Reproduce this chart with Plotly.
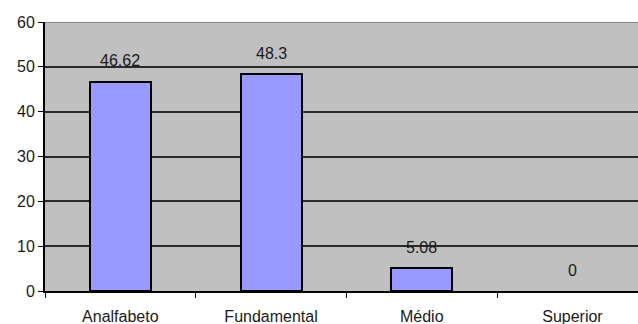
import plotly.graph_objects as go

# Escolaridade: percentual por nível
categorias = ["Analfabeto", "Fundamental", "Médio", "Superior"]
valores = [46.62, 48.3, 5.08, 0]
y_ticks = [0, 10, 20, 30, 40, 50, 60]

FONT = "Liberation Sans, Arial, sans-serif"

fig = go.Figure(
    go.Bar(
        x=categorias,
        y=valores,
        width=0.405,
        marker=dict(
            color="#9999FF",
            # no outline for empty bars
            line=dict(color="#000000", width=[2 if v > 0 else 0 for v in valores]),
        ),
        hoverinfo="skip",
    )
)

# value labels floating above each bar
for c, v in zip(categorias, valores):
    fig.add_annotation(
        x=c, y=v, text=f"{v:g}", showarrow=False,
        yanchor="middle", yshift=21,
        font=dict(family=FONT, size=16, color="#1a1a1a"),
    )

# lighter top border of the plot area
fig.add_shape(
    type="line", xref="paper", yref="y", x0=0, x1=1, y0=60, y1=60,
    line=dict(color="#8a8a8a", width=2), layer="above",
)

fig.update_layout(
    width=638, height=324,
    margin=dict(l=45, r=0, t=22, b=33),
    paper_bgcolor="#ffffff",
    plot_bgcolor="#C0C0C0",
    showlegend=False,
    font=dict(family=FONT, size=16, color="#1a1a1a"),
    bargap=0,
)

fig.update_xaxes(
    type="category",
    range=[-0.5, 3.435],
    tickson="boundaries",
    ticks="outside", ticklen=5, tickcolor="#000000", tickwidth=1,
    ticklabelstandoff=10,
    showline=True, linecolor="#000000", linewidth=2,
    showgrid=False,
    tickfont=dict(family=FONT, size=16, color="#1a1a1a"),
)

fig.update_yaxes(
    range=[0, 60],
    tickvals=y_ticks,
    ticks="outside", ticklen=5, tickcolor="#000000", tickwidth=1,
    showline=True, linecolor="#000000", linewidth=2,
    showgrid=True, gridcolor="#2a2a2a", gridwidth=1.5,
    zeroline=False,
    tickfont=dict(family=FONT, size=16, color="#1a1a1a"),
)

fig.write_html("out.html")
